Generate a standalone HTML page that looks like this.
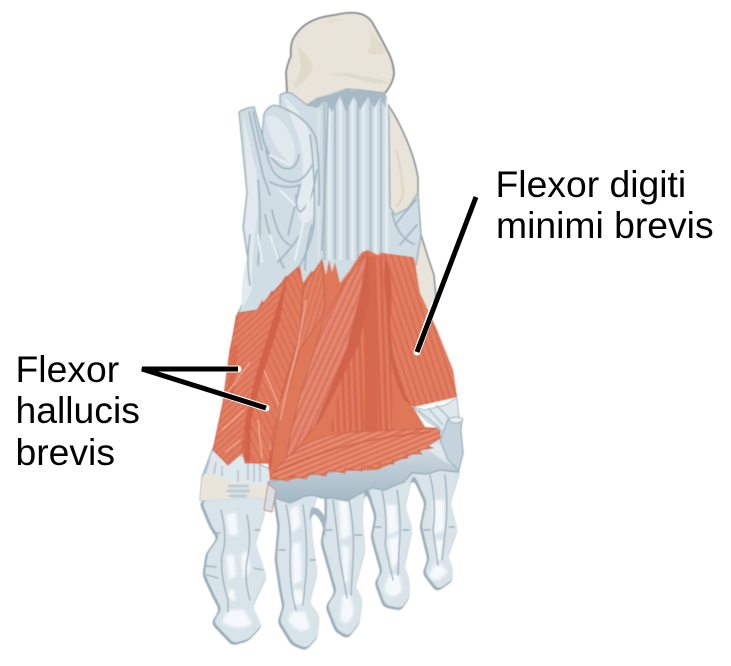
<!DOCTYPE html>
<html><head><meta charset="utf-8">
<style>
html,body{margin:0;padding:0;background:#fff}
svg{display:block}
text{font-family:"Liberation Sans",Arial,sans-serif;font-size:37.3px;fill:#000}
</style></head>
<body>
<svg width="731" height="666" viewBox="0 0 731 666" xmlns="http://www.w3.org/2000/svg">
<defs>
<filter id="round" x="-5%" y="-5%" width="110%" height="110%" color-interpolation-filters="sRGB">
<feGaussianBlur stdDeviation="2.6"/>
<feComponentTransfer><feFuncA type="linear" slope="9" intercept="-4"/></feComponentTransfer>
</filter>
<filter id="soft" x="-5%" y="-5%" width="110%" height="110%"><feGaussianBlur stdDeviation="0.5"/></filter>
<filter id="soft2" x="-20%" y="-20%" width="140%" height="140%"><feGaussianBlur stdDeviation="1.3"/></filter>
<pattern id="pA" width="5" height="5" patternUnits="userSpaceOnUse" patternTransform="rotate(-42)"><rect width="5" height="1.1" fill="#cd5f45" opacity=".75"/></pattern>
<pattern id="pB" width="6" height="6" patternUnits="userSpaceOnUse" patternTransform="rotate(65)"><rect width="6" height="1.1" fill="#cd5f45" opacity=".7"/></pattern>
<pattern id="pC" width="5" height="5" patternUnits="userSpaceOnUse" patternTransform="rotate(-73)"><rect width="5" height="1.1" fill="#cd5f45" opacity=".65"/></pattern>
<pattern id="pD" width="6" height="6" patternUnits="userSpaceOnUse" patternTransform="rotate(-65)"><rect width="6" height="1" fill="#c95d45" opacity=".6"/><rect y="3" width="6" height=".9" fill="#f0ab96" opacity=".45"/></pattern>
<pattern id="pE" width="6" height="6" patternUnits="userSpaceOnUse" patternTransform="rotate(88)"><rect width="6" height="1.2" fill="#cb5d44" opacity=".7"/><rect y="3.2" width="6" height=".9" fill="#f0ab96" opacity=".4"/></pattern>
<pattern id="pF" width="6" height="6" patternUnits="userSpaceOnUse" patternTransform="rotate(72)"><rect width="6" height="1.2" fill="#cb5d44" opacity=".75"/></pattern>
<pattern id="pG" width="5" height="5" patternUnits="userSpaceOnUse" patternTransform="rotate(-22)"><rect width="5" height="1" fill="#cc6047" opacity=".7"/><rect y="2.6" width="5" height=".8" fill="#f3bba9" opacity=".4"/></pattern>
<pattern id="pL" width="23" height="9" patternUnits="userSpaceOnUse"><rect x="1" width="3" height="9" fill="#b4c6d0"/><rect x="6" width="3" height="9" fill="#e4ecf0"/><rect x="12" width="2" height="9" fill="#a9bdc8"/><rect x="17" width="3" height="9" fill="#e4ecf0"/></pattern>
<linearGradient id="band" x1="0" y1="0" x2="0" y2="1"><stop offset="0" stop-color="#e2eaef"/><stop offset=".5" stop-color="#c0cfd8"/><stop offset="1" stop-color="#a3b7c3"/></linearGradient>
</defs>
<rect width="731" height="666" fill="#fff"/>

<g filter="url(#soft)">
<!-- lateral bone behind -->
<path d="M385,100 L390,108 Q398,120 404,134 Q415,158 418,178 L418,195 L421,235 Q428,258 434,275 L436,298 L428,330 L395,320 L380,110Z" fill="#e8e4da" stroke="#8f9294" stroke-width="1.6"/>
<path d="M396,150 Q402,170 403,192 Q402,202 396,207" fill="none" stroke="#dcd5c5" stroke-width="2"/>

<!-- calcaneus -->
<path d="M287,92 L286,72 Q288,62 291,56 Q290,46 293,39 Q298,30 305,25 Q316,17 335,15 Q347,12 356,13 Q366,14 372,22 Q380,36 386,48 Q393,60 394,72 Q394,82 385,93 L375,100 L307,110 L288,96Z" fill="#e8e4da" stroke="#86888a" stroke-width="1.8"/>
<path d="M293,85 Q303,72 300,60 Q299,50 297,45 Q307,55 313,66 Q310,78 296,88Z" fill="#e0dacb"/>
<path d="M326,75 Q345,70 362,76 Q378,78 390,83 Q375,85 360,80 Q340,74 326,75Z" fill="#e0dacb"/>
<path d="M367,52 Q375,42 368,28 Q378,38 386,52 Q376,58 367,52Z" fill="#e2dccd"/>
<path d="M320,25 Q333,18 342,19 Q332,22 320,25Z" fill="#e2dccd"/>

<!-- ligaments plantar -->
<path d="M280,95 Q288,90 294,95 L307,105 L318,98 L330,95 L347,89 L360,90 L385,93 L389,115 L390,207 L395,215 L408,208 L418,193 L421,235 L416,265 L365,300 L250,320 L238,313 Q248,295 250,270 L247,253 L243,227 L247,193 L239,112 Q245,108 254,107 L262,135 L264,114 Q270,103 278,106 L280,107Z" fill="#d0dde4" stroke="#9fb2bd" stroke-width="1.4"/>
<path d="M243,114 L257,175 L258,210 Q252,250 252,290 L242,310 Q240,280 248,255 L245,226 L248,192Z" fill="#e2eaef"/>
<path d="M265,118 Q272,150 292,165 Q300,150 288,130 Q275,110 265,118Z" fill="#e1e9ee"/>
<path d="M283,96 Q305,115 312,140 Q320,175 315,215 Q300,235 296,205 Q310,170 296,130Z" fill="#e3ebf0"/>
<rect x="318" y="100" width="70" height="160" fill="url(#pL)"/>
<g fill="none" stroke="#a3b7c3" stroke-width="1.8" stroke-linecap="round">
<path d="M249,112 L263,175 L270,195"/>
<path d="M253,112 L262,150"/>
<path d="M262,135 Q268,160 283,168 Q296,172 299,155"/>
<path d="M266,150 Q270,172 280,178 Q300,190 312,165"/>
<path d="M270,182 Q285,190 300,185 L288,235"/>
<path d="M296,195 Q296,210 300,212 Q312,205 317,170"/>
<path d="M272,210 Q278,240 290,245"/>
<path d="M281,107 Q308,118 316,138 Q320,160 319,205"/>
<path d="M310,135 Q316,175 314,225 Q310,250 296,272"/>
<path d="M300,235 Q290,250 278,262"/>
<path d="M312,225 Q305,250 305,270"/>
<path d="M328,105 Q326,170 322,250"/>
<path d="M392,213 Q398,238 414,244"/>
<path d="M395,225 Q405,212 416,200"/>
<path d="M400,245 Q408,235 417,225"/>
<path d="M250,235 Q246,262 250,285"/>
<path d="M265,215 Q270,240 284,268"/>
<path d="M258,180 Q262,215 258,265"/>
</g>
<g fill="none" stroke="#eaf0f4" stroke-width="2.2" stroke-linecap="round">
<path d="M312,185 L295,260"/><path d="M270,155 L290,165"/><path d="M280,190 L295,205"/><path d="M258,235 L262,262"/><path d="M270,235 L278,258"/>
</g>
<!-- jagged bone/ligament line -->
<path d="M307,106 L316,98 L325,96 L335,93 L345,89 L352,91 L362,90 L372,92 L385,93 L386,108 L380,98 L374,108 L368,97 L360,110 L354,96 L346,112 L340,96 L332,112 L325,100 L318,108Z" fill="#a6b9c5"/>

<!-- big toe proximal ligament + bone -->
<path d="M213,448 L202,477 L200,500 L235,508 L266,503 L272,470 L240,455Z" fill="#dfe8ed" stroke="#a3b6c1" stroke-width="1.4"/>
<path d="M202,477 Q215,473 228,480 L262,485 L268,484 L268,497 L262,505 L240,510 L222,505 L200,500Z" fill="#e9e5da"/>
<path d="M228,484 L250,484 L248,500 L232,502Z" fill="#cfdce3" opacity=".75"/>
<path d="M228,486 L248,486 M226,491 L250,491 M228,496 L246,496 M230,501 L244,501" stroke="#aebfca" stroke-width="1.5" fill="none"/>
<path d="M210,458 L205,474 M216,462 L214,474 M222,466 L222,476 M248,462 L248,480 M254,462 L254,482 M260,462 L260,482 M238,470 L238,482" stroke="#b0c2cd" stroke-width="1.6" fill="none"/>

<!-- toes silhouettes (rounded) -->
<g filter="url(#round)" fill="#9aaeb9" stroke="#9aaeb9" stroke-width="5" stroke-linejoin="round">
<path d="M202,503 L212,527 L220,538 L208,555 L205,575 L215,597 L222,610 L214,623 L233,643 L247,639 L259,626 L250,607 L264,577 L253,543 L262,515 L264,500Z"/>
<path d="M275,495 L280,527 L277,560 L282,593 L285,607 L280,622 L293,643 L305,648 L315,637 L317,617 L307,603 L315,573 L310,537 L309,517 L315,495Z"/>
<path d="M327,490 L327,520 L323,543 L337,593 L328,607 L337,630 L347,636 L357,623 L360,600 L353,587 L363,550 L360,520 L362,490Z"/>
<path d="M367,485 L377,517 L373,537 L383,573 L377,583 L385,605 L400,608 L407,597 L407,580 L402,567 L410,530 L403,507 L410,475Z"/>
<path d="M412,470 L427,503 L422,527 L430,560 L425,573 L437,589 L450,580 L450,567 L445,557 L455,530 L448,503 L458,470Z"/>
</g>
<g filter="url(#round)" fill="#d9e4ea" stroke="#d9e4ea" stroke-width="2.6" stroke-linejoin="round" transform="translate(1.2,-1.2)">
<path d="M202,503 L212,527 L220,538 L208,555 L205,575 L215,597 L222,610 L214,623 L233,643 L247,639 L259,626 L250,607 L264,577 L253,543 L262,515 L264,500Z"/>
<path d="M275,495 L280,527 L277,560 L282,593 L285,607 L280,622 L293,643 L305,648 L315,637 L317,617 L307,603 L315,573 L310,537 L309,517 L315,495Z"/>
<path d="M327,490 L327,520 L323,543 L337,593 L328,607 L337,630 L347,636 L357,623 L360,600 L353,587 L363,550 L360,520 L362,490Z"/>
<path d="M367,485 L377,517 L373,537 L383,573 L377,583 L385,605 L400,608 L407,597 L407,580 L402,567 L410,530 L403,507 L410,475Z"/>
<path d="M412,470 L427,503 L422,527 L430,560 L425,573 L437,589 L450,580 L450,567 L445,557 L455,530 L448,503 L458,470Z"/>
</g>
<g filter="url(#soft2)" fill="#f6f9fb">
<path d="M226,515 L236,512 L238,535 L229,535Z"/><path d="M226,555 L234,555 L236,575 L229,580Z"/><path d="M241,555 L248,550 L250,572 L243,578Z"/><path d="M228,590 L234,590 L236,600 L230,600Z"/><path d="M222,622 Q238,632 252,624 L244,610 L228,610Z"/>
<path d="M290,510 L298,505 L301,525 L292,533Z"/><path d="M292,545 L300,542 L302,580 L293,585Z"/><path d="M293,590 L302,590 L304,603 L294,605Z"/><path d="M288,620 Q298,636 310,628 L305,612 L292,612Z"/>
<path d="M339,500 L348,500 L350,535 L341,540Z"/><path d="M342,545 L349,548 L348,580 L344,585Z"/><path d="M340,618 Q347,630 354,612 L350,595 L343,595Z"/>
<path d="M386,505 L396,505 L398,530 L388,535Z"/><path d="M388,540 L399,535 L399,560 L392,570Z"/><path d="M384,590 Q392,603 402,590 L399,575 L389,575Z"/>
<path d="M433,500 L444,500 L444,530 L434,535Z"/><path d="M435,540 L443,540 L441,560 L437,560Z"/><path d="M429,576 Q436,586 447,572 L442,565 L434,565Z"/>
</g>
<g fill="none" stroke="#9db1bc" stroke-width="1.4" stroke-linecap="round">
<path d="M221,510 Q228,540 222,555 Q220,575 228,600 L228,612"/><path d="M247,515 Q252,540 247,560 Q244,580 250,600"/><path d="M206,566 L216,567 M207,575 L218,578 M254,568 L263,570 M213,533 L220,533 M255,530 L260,530"/>
<path d="M286,505 Q292,530 290,560 Q290,590 296,610"/><path d="M303,505 Q308,540 306,575 L303,605"/><path d="M279,550 L285,550 M310,560 L315,560"/>
<path d="M333,500 Q337,530 340,560 L347,598"/><path d="M349,500 Q355,530 353,560 L351,595"/><path d="M326,530 L332,530 M355,535 L362,535"/>
<path d="M382,490 Q388,520 385,545 L393,580"/><path d="M397,490 Q402,520 399,550 L398,575"/><path d="M375,527 L381,527 M403,530 L409,530"/>
<path d="M430,475 Q437,505 433,530 L438,565"/><path d="M445,475 Q448,500 446,525 L442,560"/><path d="M424,530 L430,530 M449,527 L454,527"/>
</g>
<path d="M311,508 Q320,505 326,520 L325,538 Q322,518 314,514 L309,520Z" fill="#a4b7c2"/>

<!-- forefoot band -->
<path d="M268,482 L275,498 L290,503 L297,500 L305,496 L313,495 L322,498 L333,498 L347,501 L356,496 L363,492 L372,488 L385,490 L398,484 L404,482 L412,473 L427,474 L440,470 L458,472 L463,453 L460,425 L440,430 L380,465 L290,478Z" fill="url(#band)" stroke="#9db1bc" stroke-width="1.5"/>
<path d="M415,440 L445,445 L458,430 L460,468 L445,462Z" fill="#e3ebf0" opacity=".8"/>
<path d="M268,484 L264,510 L272,512 L276,490Z" fill="#d6e1e7" stroke="#d28a75" stroke-width="1"/>

<!-- muscle base with jagged top -->
<path d="M257,310 L236,315 L230,350 L223,403 L213,450 L228,465 L242,453 L245,463 L268,463 L270,480 L290,480 L323,472 L377,470 L423,450 L440,437 L438,428 L425,427 L413,407 L457,397 L453,370 L437,330 L420,293 L414,257 L412,264 L408,257 L404,265 L400,256 L396,262 L392,254 L388,260 L382,252 L378,255 L368,250 L362,252 L355,262 L350,270 L340,283 L335,262 L332,272 L329,260 L326,275 L322,258 L314,278 L312,270 L303,283 L300,265 L298,272 L296,268 L288,285 L286,275 L274,294 L272,290 L264,303 L262,300Z" fill="#df7859"/>
<!-- central deep -->
<path d="M362,255 L390,258 L392,430 L330,432 L350,340Z" fill="#dc7154"/>
<path d="M362,255 L392,258 L392,430 L330,432 L350,340Z" fill="url(#pE)"/>
<path d="M367,255 L375,258 L378,430 L365,432 L364,330Z" fill="#d6674b"/>
<!-- A -->
<path d="M257,310 L238,313 L230,350 L223,403 L213,450 L228,465 L242,453 L246,420 L257,373 L287,277Z" fill="#e27f63" stroke="#d0654a" stroke-width="1"/>
<path d="M232,345 L226,400 L234,395 L238,345Z" fill="#d9694e" opacity=".7"/>
<path d="M257,310 L238,313 L230,350 L223,403 L213,450 L228,465 L242,453 L246,420 L257,373 L287,277Z" fill="url(#pA)"/>
<g fill="none" stroke="#f0ab96" stroke-width="1.2"><path d="M228,392 L250,362"/><path d="M222,430 L244,410"/><path d="M225,452 L240,440"/></g>
<!-- B -->
<path d="M287,277 L298,267 L303,287 L300,333 L283,390 L273,437 L269,463 L245,463 L244,440 L247,415 L257,373Z" fill="#e27c5f" stroke="#cf6349" stroke-width="1"/>
<path d="M287,277 L298,267 L303,287 L300,333 L283,390 L273,437 L269,463 L245,463 L244,440 L247,415 L257,373Z" fill="url(#pB)"/>
<path d="M287,278 L257,373 L246,420 L245,460 L250,462 L251,420 L262,378 L280,320Z" fill="#d2624a"/>
<g fill="none" stroke="#f0ab96" stroke-width="1.3"><path d="M264,370 L279,405 L270,450"/><path d="M258,420 L262,458"/></g>
<!-- C -->
<path d="M322,260 L325,300 L323,315 L300,350 L285,400 L277,423 L270,470 L272,437 L283,390 L300,333 L303,287Z" fill="#e28063" stroke="#c9614a" stroke-width="1"/>
<path d="M322,260 L325,300 L323,315 L300,350 L285,400 L277,423 L270,470 L272,437 L283,390 L300,333 L303,287Z" fill="url(#pC)"/>
<path d="M306,300 L298,345 L280,420" fill="none" stroke="#f0ab96" stroke-width="1.3"/>
<!-- D -->
<path d="M367,252 L369,300 L358,345 L320,420 L300,445 L286,460 L290,437 L300,395 L323,323 L345,282Z" fill="#e2806a" stroke="#cc6349" stroke-width="1"/>
<path d="M367,252 L369,300 L358,345 L320,420 L300,445 L286,460 L290,437 L300,395 L323,323 L345,282Z" fill="url(#pD)"/>
<path d="M367,252 L369,300 L358,345 L322,418 L314,428 L346,350 L360,295Z" fill="#d2644b"/>
<!-- F -->
<path d="M383,253 L413,257 L420,293 L437,330 L453,370 L457,397 L413,407 Q398,390 392,360 Q388,325 392,295Z" fill="#e27d60"/>
<path d="M383,253 L413,257 L420,293 L437,330 L453,370 L457,397 L413,407 Q398,390 392,360 Q388,325 392,295Z" fill="url(#pF)"/>
<path d="M385,255 Q394,280 391,310 Q388,365 412,406 L404,400 Q388,370 387,320 L384,280Z" fill="#d1634a"/>
<!-- G feather -->
<path d="M270,477 Q285,455 307,443 Q330,433 357,432 L440,428 L440,438 L428,446 L433,448 L418,450 L422,454 L405,454 L408,458 L392,460 L394,464 L378,464 L380,468 L362,466 L362,471 L345,468 L345,473 L328,470 L326,476 L310,473 L306,479 L292,476 L288,481Z" fill="#e38064" stroke="#c76149" stroke-width=".8"/>
<path d="M270,477 Q285,455 307,443 Q330,433 357,432 L440,428 L440,438 L428,446 L433,448 L418,450 L422,454 L405,454 L408,458 L392,460 L394,464 L378,464 L380,468 L362,466 L362,471 L345,468 L345,473 L328,470 L326,476 L310,473 L306,479 L292,476 L288,481Z" fill="url(#pG)"/>
<path d="M275,472 Q340,440 430,432" fill="none" stroke="#cc6047" stroke-width="1.2"/>

<!-- lateral metatarsal ligament -->
<path d="M413,407 L425,410 L445,405 L457,398 L459,417 L448,420 L443,432 L438,428 L428,422Z" fill="#dfe8ed" stroke="#a9bcc7" stroke-width="1"/>
<path d="M418,410 L440,428 M428,408 L443,425 M436,405 L449,418" stroke="#a9bcc7" stroke-width="1.3" fill="none"/>
<path d="M448,419 L462,420 L461,430 L463,453 L459,470 L448,460 L440,440Z" fill="#c4d3dc" stroke="#9fb2bd" stroke-width="1.2"/>
<ellipse cx="456" cy="420" rx="7" ry="3" fill="#e6edf1" stroke="#9fb2bd" stroke-width="1"/>
</g>

<!-- leader lines -->
<g fill="none" stroke="#fff" stroke-width="7" stroke-linecap="round">
<path d="M434,305 L417,352"/><path d="M200,369 L238,369"/><path d="M216,392 L266,408"/>
</g>
<g fill="none" stroke="#000" stroke-width="5">
<path d="M476,197 L417,352"/>
<path d="M238,369 L142,369 L266,408" stroke-linejoin="miter"/>
</g>

<text x="495.5" y="197">Flexor digiti</text>
<text x="496" y="238">minimi brevis</text>
<text x="15.5" y="382">Flexor</text>
<text x="15.5" y="423">hallucis</text>
<text x="15.5" y="465">brevis</text>
</svg>
</body></html>
